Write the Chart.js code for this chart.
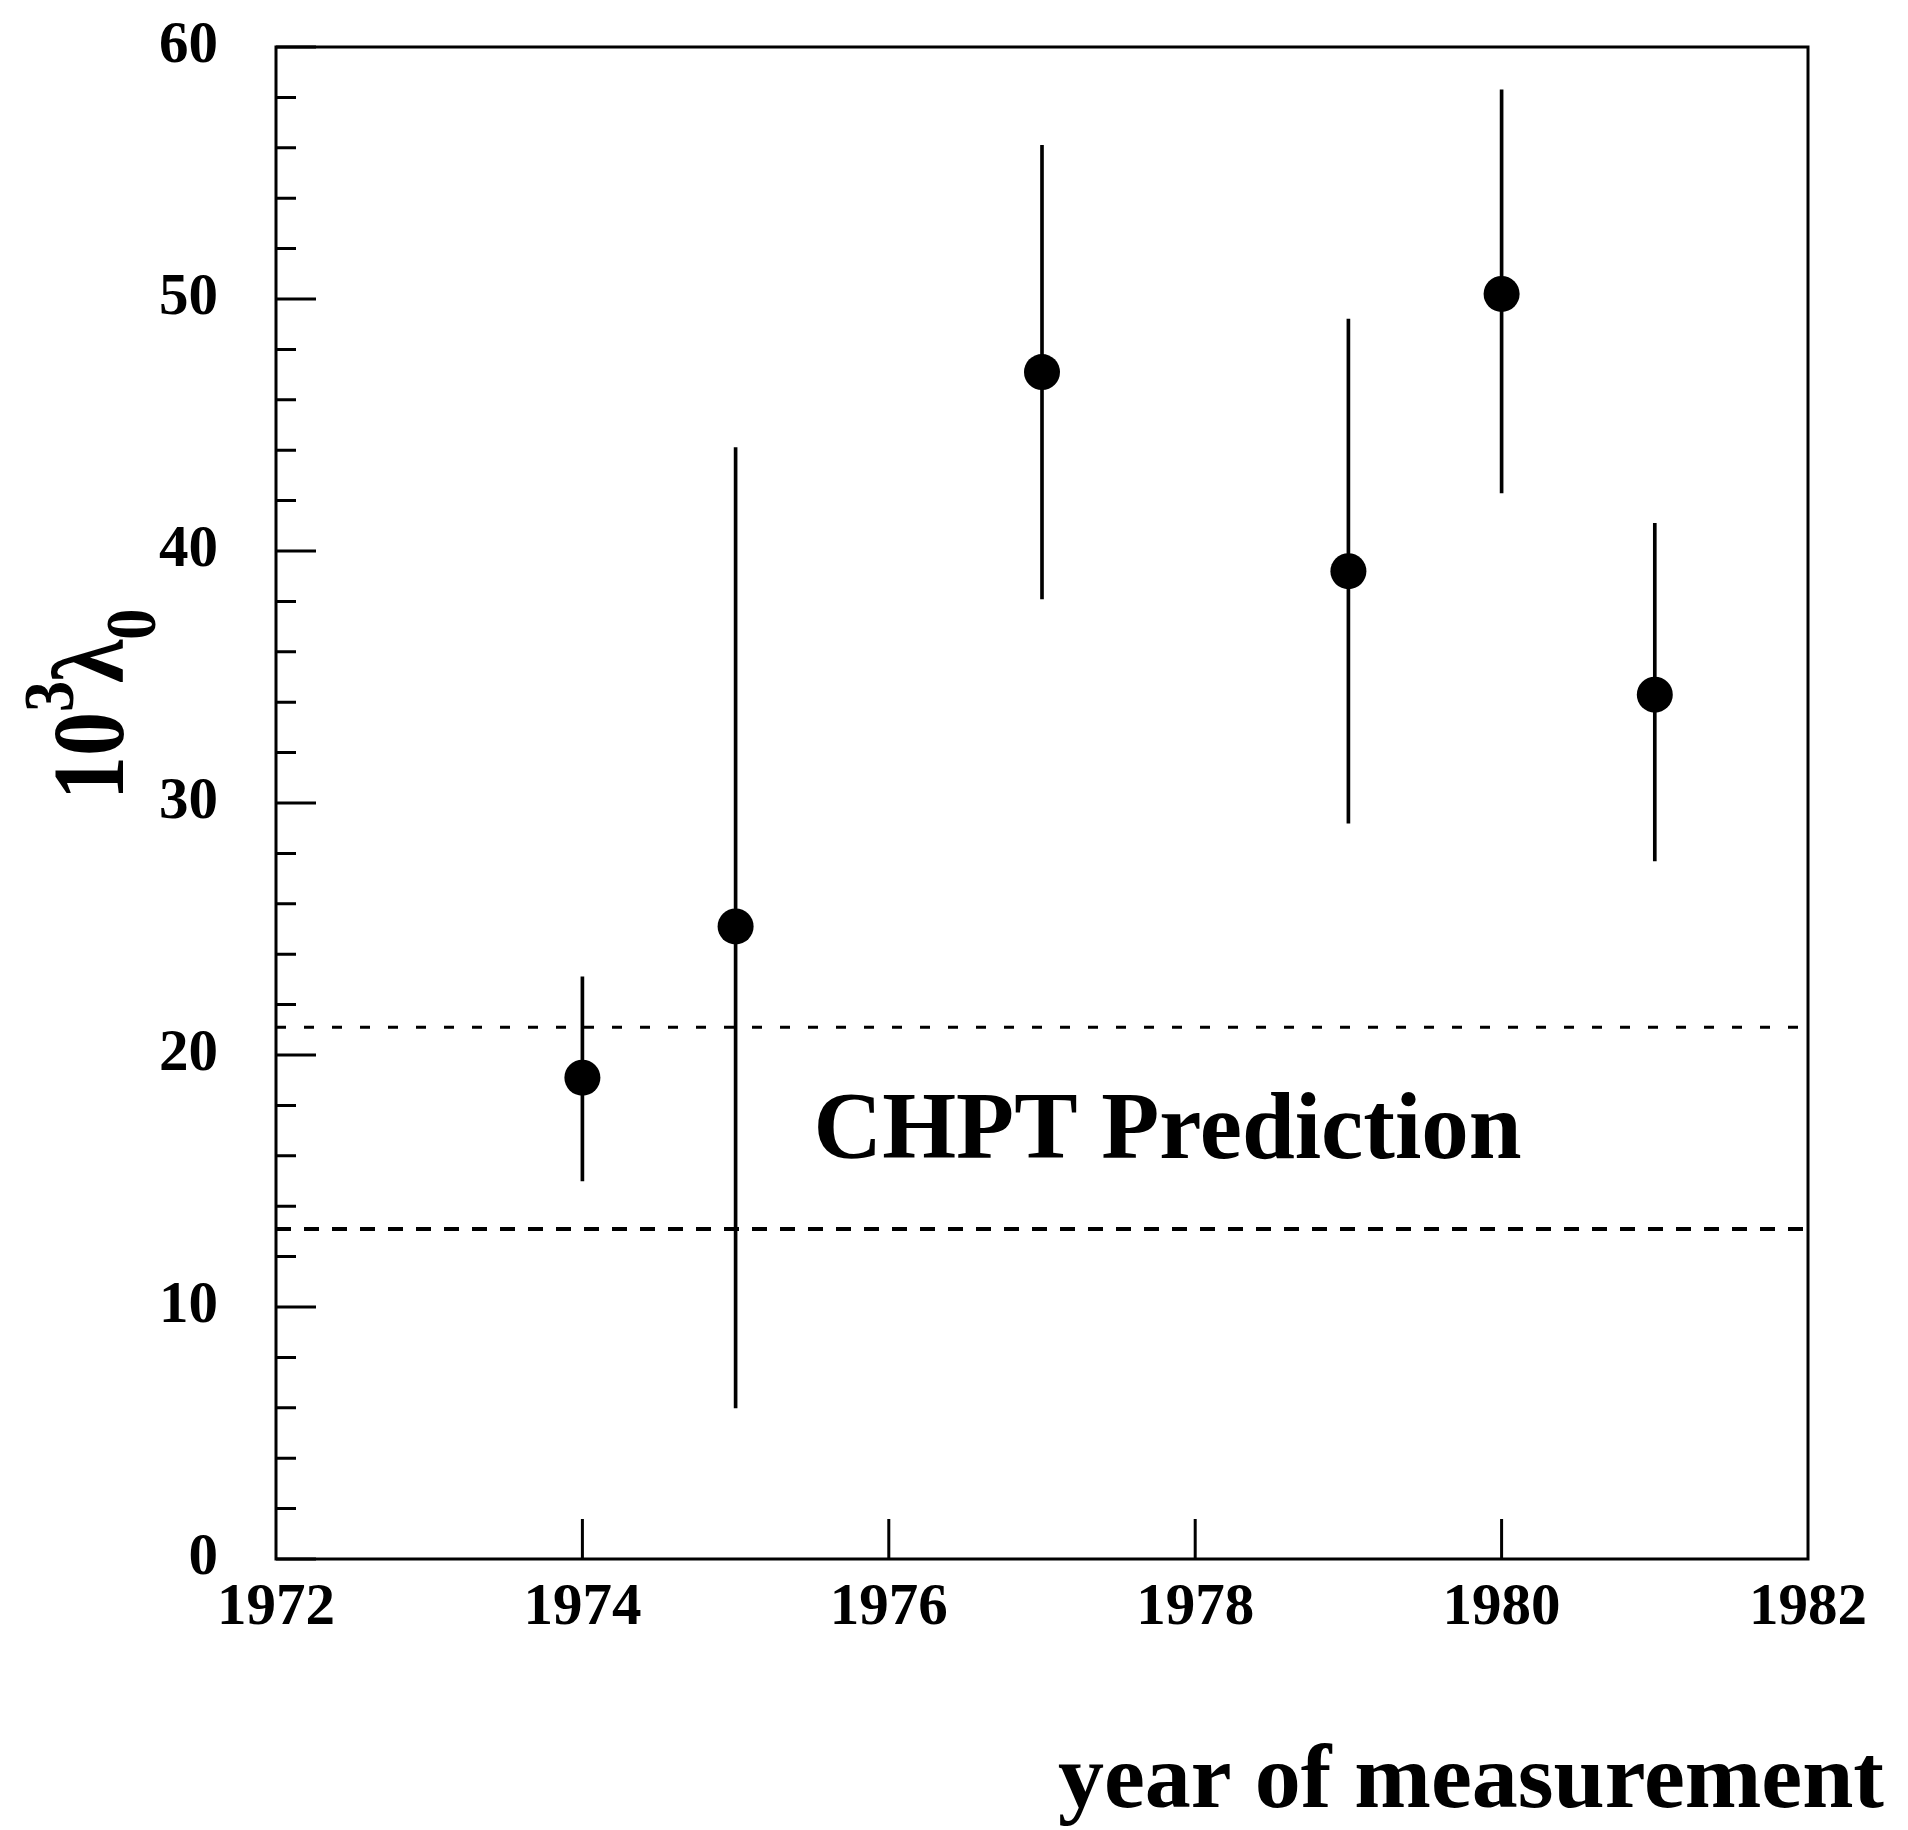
<!DOCTYPE html>
<html>
<head>
<meta charset="utf-8">
<script src="https://cdn.jsdelivr.net/npm/chart.js@4.4.1/dist/chart.umd.min.js"></script>
<style>
    html, body { margin: 0; padding: 0; background: #fff; }
    #wrap { width: 1908px; height: 1830px; }
</style>
</head>
<body>
<div id="wrap"><canvas id="chart" width="1908" height="1830"></canvas></div>
<script>
// Measured lambda_0 (x 10^3) by year, with error bar ends
const years = [1974, 1975, 1977, 1979, 1980, 1981];
const lambda0 = [19.1, 25.1, 47.1, 39.2, 50.2, 34.3];
const errLow = [15.0, 6.0, 38.1, 29.2, 42.3, 27.7];
const errHigh = [23.1, 44.1, 56.1, 49.2, 58.3, 41.1];

// CHPT prediction band
const bandUpper = 21.1;
const bandLower = 13.1;

// Axis ranges and ticks
const xRange = [1972, 1982];
const yRange = [0, 60];
const xMajorTicks = [1974, 1976, 1978, 1980];
const yMinorStep = 2;
const yMajorStep = 10;

const SERIF = '"Liberation Serif", "Times New Roman", serif';

/**
 * Draws the frame, inward tick marks and the free text
 */
const framePlugin = {
    id: 'frame',
    afterDraw(chart) {
        const { ctx, chartArea: a, scales: { x, y } } = chart;
        ctx.save();
        ctx.strokeStyle = '#000';
        ctx.fillStyle = '#000';
        ctx.lineWidth = 3;
        ctx.strokeRect(a.left, a.top, a.right - a.left, a.bottom - a.top);

        // tick marks pointing into the plot
        ctx.beginPath();
        for (let v = yRange[0]; v <= yRange[1]; v += yMinorStep) {
            const py = y.getPixelForValue(v);
            const len = v % yMajorStep === 0 ? 40 : 20;
            ctx.moveTo(a.left, py);
            ctx.lineTo(a.left + len, py);
        }
        xMajorTicks.forEach(v => {
            const px = x.getPixelForValue(v);
            ctx.moveTo(px, a.bottom);
            ctx.lineTo(px, a.bottom - 40);
        });
        ctx.stroke();

        // annotation
        ctx.font = 'bold 95px ' + SERIF;
        ctx.textAlign = 'center';
        ctx.textBaseline = 'alphabetic';
        ctx.fillText('CHPT Prediction', x.getPixelForValue(1977.82), y.getPixelForValue(15.9));

        // x title
        ctx.font = 'bold 92px ' + SERIF;
        ctx.textAlign = 'right';
        ctx.fillText('year of measurement', 1884, 1807);

        // y title: 10^3 lambda_0, rotated, glyphs a little taller like the print
        const stretch = 1.15;
        ctx.translate(123, 800);
        ctx.rotate(-Math.PI / 2);
        ctx.scale(1, stretch);
        ctx.textAlign = 'left';
        const big = 'bold 88px ' + SERIF;
        const small = 'bold 62px ' + SERIF;
        let cx = 0;
        ctx.font = big;
        ctx.fillText('10', cx, 0);
        cx += ctx.measureText('10').width;
        ctx.font = small;
        ctx.fillText('3', cx, -50 / stretch);
        cx += ctx.measureText('3').width - 2;
        ctx.font = big;
        ctx.fillText('λ', cx, 0);
        cx += ctx.measureText('λ').width;
        ctx.font = small;
        ctx.fillText('0', cx, 32 / stretch);
        ctx.restore();
    }
};

const tickFont = { family: SERIF, size: 59, weight: 'bold' };

const ctx = document.getElementById('chart').getContext('2d');
const chart = new Chart(ctx, {
    type: 'scatter',
    data: {
        datasets: [
            {
                type: 'scatter',
                label: 'Measurements',
                data: years.map((yr, i) => ({ x: yr, y: lambda0[i] })),
                pointRadius: 18,
                pointHoverRadius: 18,
                backgroundColor: '#000',
                borderColor: '#000',
                borderWidth: 0,
                order: 0
            },
            {
                type: 'bar',
                label: 'Errors',
                data: years.map((yr, i) => ({ x: yr, y: [errLow[i], errHigh[i]] })),
                backgroundColor: '#000',
                borderWidth: 0,
                barThickness: 3,
                grouped: false,
                order: 1
            },
            {
                type: 'line',
                label: 'CHPT upper',
                data: xRange.map(v => ({ x: v, y: bandUpper })),
                borderColor: '#000',
                borderWidth: 3,
                borderDash: [10, 18],
                pointRadius: 0,
                showLine: true,
                order: 2
            },
            {
                type: 'line',
                label: 'CHPT lower',
                data: xRange.map(v => ({ x: v, y: bandLower })),
                borderColor: '#000',
                borderWidth: 4,
                borderDash: [15, 13],
                pointRadius: 0,
                showLine: true,
                order: 2
            }
        ]
    },
    options: {
        responsive: false,
        animation: false,
        layout: { padding: { top: 47, right: 100, bottom: 0, left: 0 } },
        plugins: {
            legend: { display: false },
            tooltip: { enabled: false }
        },
        scales: {
            x: {
                type: 'linear',
                min: xRange[0],
                max: xRange[1],
                offset: false,
                grid: { display: false, drawTicks: false },
                border: { display: false },
                ticks: {
                    stepSize: 2,
                    padding: 14,
                    color: '#000',
                    font: tickFont,
                    maxRotation: 0,
                    autoSkip: false,
                    callback: v => String(v)
                },
                afterFit: s => { s.height = 271; }
            },
            y: {
                type: 'linear',
                min: yRange[0],
                max: yRange[1],
                grid: { display: false, drawTicks: false },
                border: { display: false },
                ticks: {
                    stepSize: yMajorStep,
                    padding: 58,
                    color: '#000',
                    font: tickFont
                },
                // label gap should not push the plot top down
                afterFit: s => {
                    s.width = 276;
                    s.paddingTop = 0;
                    s.paddingBottom = 0;
                }
            }
        }
    },
    plugins: [framePlugin]
});
</script>
</body>
</html>
